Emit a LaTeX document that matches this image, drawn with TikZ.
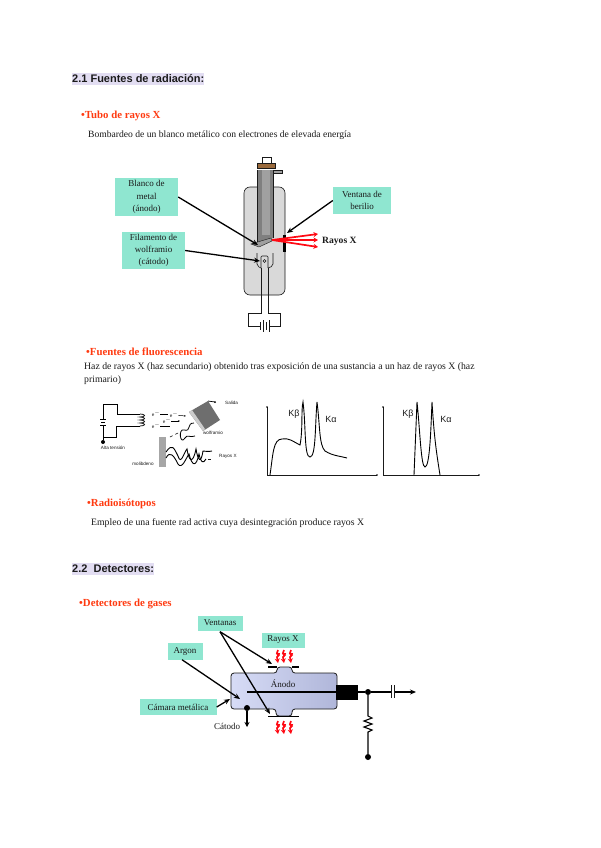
\documentclass[tikz,border=0pt]{standalone}
\usepackage{fontspec}
\setmainfont{Liberation Serif}
\setsansfont{Liberation Sans}
\usetikzlibrary{arrows.meta,calc,positioning}
\definecolor{dgInk}{HTML}{1A1A1A}
\definecolor{dgLabel}{HTML}{8FE6D0}
\definecolor{dgHead}{HTML}{E2DDF2}
\definecolor{dgRed}{HTML}{FF3A10}
\definecolor{dgRay}{HTML}{FF0A14}
\definecolor{dgTube}{HTML}{D9D9D9}
\definecolor{dgNeck}{HTML}{7F7F7F}
\definecolor{dgStrip}{HTML}{A0A0A0}
\definecolor{dgBrown}{HTML}{9A6A3C}
\definecolor{dgBlock}{HTML}{6E6E6E}
\definecolor{dgCell}{HTML}{BCC4F0}
\tikzset{
  every node/.style={text=dgInk},
  headline/.style={font=\sffamily\bfseries\fontsize{11}{13}\selectfont, fill=dgHead,
    anchor=west, inner xsep=0pt, inner ysep=2pt},
  bullet/.style={font=\bfseries\fontsize{10.8}{12}\selectfont, text=dgRed, anchor=west, inner sep=0pt},
  bodytext/.style={font=\fontsize{9.6}{11}\selectfont, anchor=west, inner sep=0pt},
  tag/.style={rectangle, fill=dgLabel, align=center, inner sep=0pt,
    font=\fontsize{9}{12.2}\selectfont},
  tiny/.style={font=\sffamily\fontsize{4.6}{5}\selectfont, inner sep=0pt},
  kpeak/.style={font=\sffamily\fontsize{9}{10}\selectfont, inner sep=0pt},
  pointer/.style={-{Stealth[length=6pt,width=5pt]}, line width=1.3pt, color=black},
  ray/.style={-{Stealth[length=4.5pt,width=5pt]}, line width=1.5pt, color=dgRay},
  wire/.style={line width=0.6pt, color=dgInk},
  heavy/.style={line width=1.1pt, color=black},
  blob/.style={circle, fill=black, inner sep=0pt, minimum size=6pt},
}
\newcommand{\zigray}[2]{%
  \draw[ray, line width=1.7pt] (#1,#2) -- ++(-1,3) -- ++(2,2) -- ++(-2,2) -- ++(1,6);
  \fill[dgRay] (#1-2.2,#2+3) -- (#1+2.2,#2+3) -- (#1,#2+7) -- cycle;
}
\begin{document}
\begin{tikzpicture}[x=1pt,y=-1pt]
  \useasboundingbox (0,0) rectangle (600,848);
  \fill[white] (0,0) rectangle (600,848);

  % Page text.
  \node[headline] (head1) at (72,79) {2.1 Fuentes de radiación:};
  \node[bullet] (tubo) at (81,116) {•Tubo de rayos X};
  \node[bodytext] (bomb) at (88,135) {Bombardeo de un blanco metálico con electrones de elevada energía};
  \node[bullet] (fluo) at (86,352) {•Fuentes de fluorescencia};
  \node[bodytext, font=\fontsize{9.75}{11}\selectfont] (haz1) at (84,367) {Haz de rayos X (haz secundario) obtenido tras exposición de una sustancia a un haz de rayos X (haz};
  \node[bodytext, font=\fontsize{9.75}{11}\selectfont] (haz2) at (84,380) {primario)};
  \node[bullet] (radio) at (87,504) {•Radioisótopos};
  \node[bodytext, font=\fontsize{9.75}{11}\selectfont] (empleo) at (91,523) {Empleo de una fuente rad activa cuya desintegración produce rayos X};
  \node[headline] (head2) at (72,569) {2.2\ \ Detectores:};
  \node[bullet] (gases) at (79,604) {•Detectores de gases};

  % X-ray tube.
  \draw[wire, fill=dgTube, rounded corners=6pt] (244,187) rectangle (285,295);
  \fill[dgNeck] (257,170) -- (273,170) -- (273,238) -- (257,244) -- cycle;
  \fill[dgStrip] (262,170) rectangle (270,235);
  \draw[wire] (257,170) -- (257,243) (273,170) -- (273,238);
  \draw[wire, fill=dgStrip] (273,170) rectangle (282,173);
  \draw[wire, fill=dgBrown] (257,163) rectangle (275,168);
  \draw[wire, fill=white] (262,157) rectangle (271,163);
  \fill[gray!75, draw=dgInk, line width=0.4pt] (251,244) -- (271,238) -- (272,241) -- (259,247) -- cycle;
  \fill[black] (283,235) rectangle (286,252);
  \foreach \y in {234,240,247} {
    \draw[ray, line width=1.7pt] (272,240) -- (318,\y);
  }
  \node[font=\bfseries\fontsize{9.6}{11}\selectfont, anchor=west, inner sep=0pt] (rayos) at (322,241) {Rayos X};
  \draw[wire, rounded corners=2pt] (257,253) -- (257,266) -- (261,268) (273,253) -- (273,266) -- (268,268);
  \draw[wire, rounded corners=1pt] (261,268) -- (261,256) -- (268,256) -- (268,268);
  \draw[wire] (264.5,261) circle (1.5);
  \draw[wire] (261,268) -- (261,313) -- (248,313) -- (248,326) -- (260,326);
  \draw[wire] (268,268) -- (268,313) -- (280,313) -- (280,326) -- (269,326);
  \draw[wire] (260,322) -- (260,330) (263,320) -- (263,332) (266,322) -- (266,330) (269,320) -- (269,332);

  \node[tag, minimum width=63pt, minimum height=38pt] (blanco) at (146.5,197) {Blanco de\\metal\\(ánodo)};
  \node[tag, minimum width=63pt, minimum height=37pt] (filamento) at (153.5,250.5) {Filamento de\\wolframio\\(cátodo)};
  \node[tag, minimum width=58pt, minimum height=27pt] (ventana) at (362,200.5) {Ventana de\\berilio};
  \coordinate (target) at (258,245);
  \coordinate (wire end) at (260,261);
  \coordinate (window) at (287,233);
  \draw[pointer] (blanco.east) -- (target);
  \draw[pointer] (filamento.east) -- (wire end);
  \draw[pointer] (ventana.west) -- (window);

  % Fluorescence source.
  \draw[heavy, line width=0.9pt] (103,404) -- (117,404) -- (117,414) -- (140,414);
  \draw[heavy, line width=0.9pt] (103,404) -- (103,419) (103,425) -- (103,437) -- (116,437) -- (116,426) -- (140,426);
  \draw[heavy, line width=0.8pt] (100,419) -- (106,419) (101,422) -- (105,422) (100,425) -- (106,425);
  \draw[wire, line width=0.8pt] (140,414) .. controls (146,414) and (146,417) .. (140,417)
    .. controls (146,417) and (146,420) .. (140,420)
    .. controls (146,420) and (146,423) .. (140,423)
    .. controls (146,423) and (146,426) .. (140,426);
  \node[blob, minimum size=4pt] (ground) at (103,442) {};
  \draw[heavy, line width=0.9pt] (103,437) -- (ground);
  \node[tiny] (alta) at (113,448) {Alta tensión};
  \fill[dgBlock] (189,412) -- (208,401) -- (220,420) -- (203,431) -- cycle;
  \fill[gray!40] (189,412) -- (192,410) -- (205,429) -- (203,431) -- cycle;
  \draw[heavy, line width=0.7pt] (208,401) -- (215,402);
  \fill[black] (215,402) circle (1);
  \node[tiny, anchor=west] (salida) at (225,403) {Salida};
  \node[tiny] (wolf) at (213,433) {wolframio};
  \fill[gray!70] (159,437) rectangle (166,467);
  \node[tiny] (moli) at (143,464) {molibdeno};
  \node[tiny, anchor=west] (rx) at (219,456) {Rayos X};
  \node[tiny] (e1) at (156,414) {e$^-$};
  \node[tiny] (e2) at (174,415) {e$^-$};
  \node[tiny] (e3) at (167,421) {e$^-$};
  \node[tiny] (e4) at (156,426) {e$^-$};
  \draw[heavy, line width=0.7pt] (e1) -- (168,414);
  \draw[-{Stealth[length=2pt]}, line width=0.5pt] (e2) -- (186,416);
  \draw[-{Stealth[length=2pt]}, line width=0.5pt] (e3) -- (180,421);
  \draw[heavy, line width=0.7pt] (e4) -- (170,426);
  \draw[heavy, line width=0.8pt] (194,423) .. controls (186,423) and (192,432) .. (184,430)
    .. controls (178,428) and (180,446) .. (185,438) .. controls (187,434) and (190,438) .. (195,436);
  \draw[heavy, dashed, line width=0.5pt] (178,433) -- (168,438);
  \draw[heavy, line width=0.9pt] (166,452) .. controls (172,443) and (174,448) .. (178,456)
    .. controls (181,466) and (184,452) .. (187,449) .. controls (189,462) and (193,464) .. (196,449)
    .. controls (198,461) and (201,464) .. (203,451) .. controls (205,451) and (208,452) .. (212,451);
  \draw[heavy, line width=0.9pt] (166,458) .. controls (170,450) and (174,456) .. (178,464)
    .. controls (182,470) and (186,458) .. (189,454) .. controls (192,466) and (196,468) .. (199,454)
    .. controls (201,463) and (203,464) .. (206,459);
  \draw[wire] (208,459) -- (211,459);

  % Spectra.
  \draw[wire] (267,407) -- (267,475) -- (377,475);
  \fill[black] (267,407) circle (0.8);
  \fill[black] (377,475) circle (0.8);
  \draw[heavy, line width=0.9pt] (270,475) .. controls (273,455) and (273,439) .. (282,439)
    .. controls (290,438) and (292,441) .. (300,445)
    .. controls (303,430) and (301,410) .. (303,402)
    .. controls (306,425) and (304,457) .. (310,457)
    .. controls (316,457) and (315,425) .. (317,402)
    .. controls (320,425) and (319,445) .. (325,451)
    .. controls (333,456) and (340,456) .. (347,458);
  \node[kpeak] (kb1) at (294,414) {Kβ};
  \node[kpeak] (ka1) at (331,419) {Kα};
  \draw[wire] (383,407) -- (383,475) -- (479,475);
  \fill[black] (383,407) circle (0.8);
  \fill[black] (479,475) circle (0.8);
  \draw[heavy, line width=0.9pt] (414,475) -- (417,402)
    .. controls (420,430) and (421,467) .. (425,467)
    .. controls (430,467) and (431,425) .. (432,402)
    .. controls (434,435) and (436,450) .. (440,475);
  \node[kpeak] (kb2) at (408,414) {Kβ};
  \node[kpeak] (ka2) at (446,419) {Kα};

  % Gas detector.
  \shade[left color=dgCell!60!white, right color=dgCell!80!gray, draw=dgInk, line width=0.8pt, rounded corners=3pt]
    (231,673) -- (277,673) -- (277,667) -- (292,667) -- (292,673) -- (337,673) -- (337,709)
    -- (292,709) -- (292,716) -- (276,716) -- (276,709) -- (231,709) -- cycle;
  \draw[heavy] (268,667) -- (277,667) (292,667) -- (299,667);
  \draw[heavy] (268,716.5) -- (299,716.5);
  \node[font=\fontsize{9}{10}\selectfont, inner sep=0pt] (anodo) at (283,684) {Ánodo};
  \node[rectangle, fill=black, minimum width=22pt, minimum height=15pt, inner sep=0pt] (charge) at (347,692) {};
  \coordinate (wire start) at (247,692);
  \draw[heavy] (wire start) -- (charge);
  \node[blob] (junction) at (368,692) {};
  \coordinate (out) at (416,692);
  \draw[heavy] (charge) -- (junction) -- (391,692);
  \draw[heavy, -{Stealth[length=6pt,width=5pt]}] (394,692) -- (out);
  \draw[wire] (391,685) -- (391,698) (394,685) -- (394,698);
  \node[blob] (ground2) at (368,757) {};
  \draw[heavy] (junction) -- (368,716) -- ++(4,2) -- ++(-8,3) -- ++(8,3) -- ++(-8,3) -- ++(8,3) -- ++(-4,2) -- (ground2);
  \node[blob] (cathode) at (247,708) {};
  \coordinate (cathode end) at (247,727);
  \draw[heavy, -{Stealth[length=5pt,width=5pt]}] (cathode) -- (cathode end);
  \node[font=\fontsize{9}{10}\selectfont, inner sep=0pt] (catodo) at (227,726) {Cátodo};
  \foreach \x in {278,284,291} {
    \zigray{\x}{650}
    \zigray{\x}{721}
  }
  \node[tag, minimum width=45pt, minimum height=15pt] (ventanas) at (220,623) {Ventanas};
  \node[tag, minimum width=43pt, minimum height=15pt] (rayosb) at (283,640) {Rayos X};
  \node[tag, minimum width=35pt, minimum height=17pt] (argon) at (185,651) {Argon};
  \node[tag, minimum width=77pt, minimum height=16pt] (camara) at (178,707) {Cámara metálica};
  \coordinate (win top) at (272,664);
  \coordinate (win bot) at (270,714);
  \coordinate (gas) at (240,699);
  \coordinate (wall) at (230,699);
  \draw[pointer] (ventanas.south) ++(0,1) -- (win top);
  \draw[pointer] (ventanas.south) ++(0,1) -- (win bot);
  \draw[pointer] (argon.south) ++(-3,0) -- (gas);
  \draw[pointer] (camara.east) -- (wall);
\end{tikzpicture}
\end{document}
